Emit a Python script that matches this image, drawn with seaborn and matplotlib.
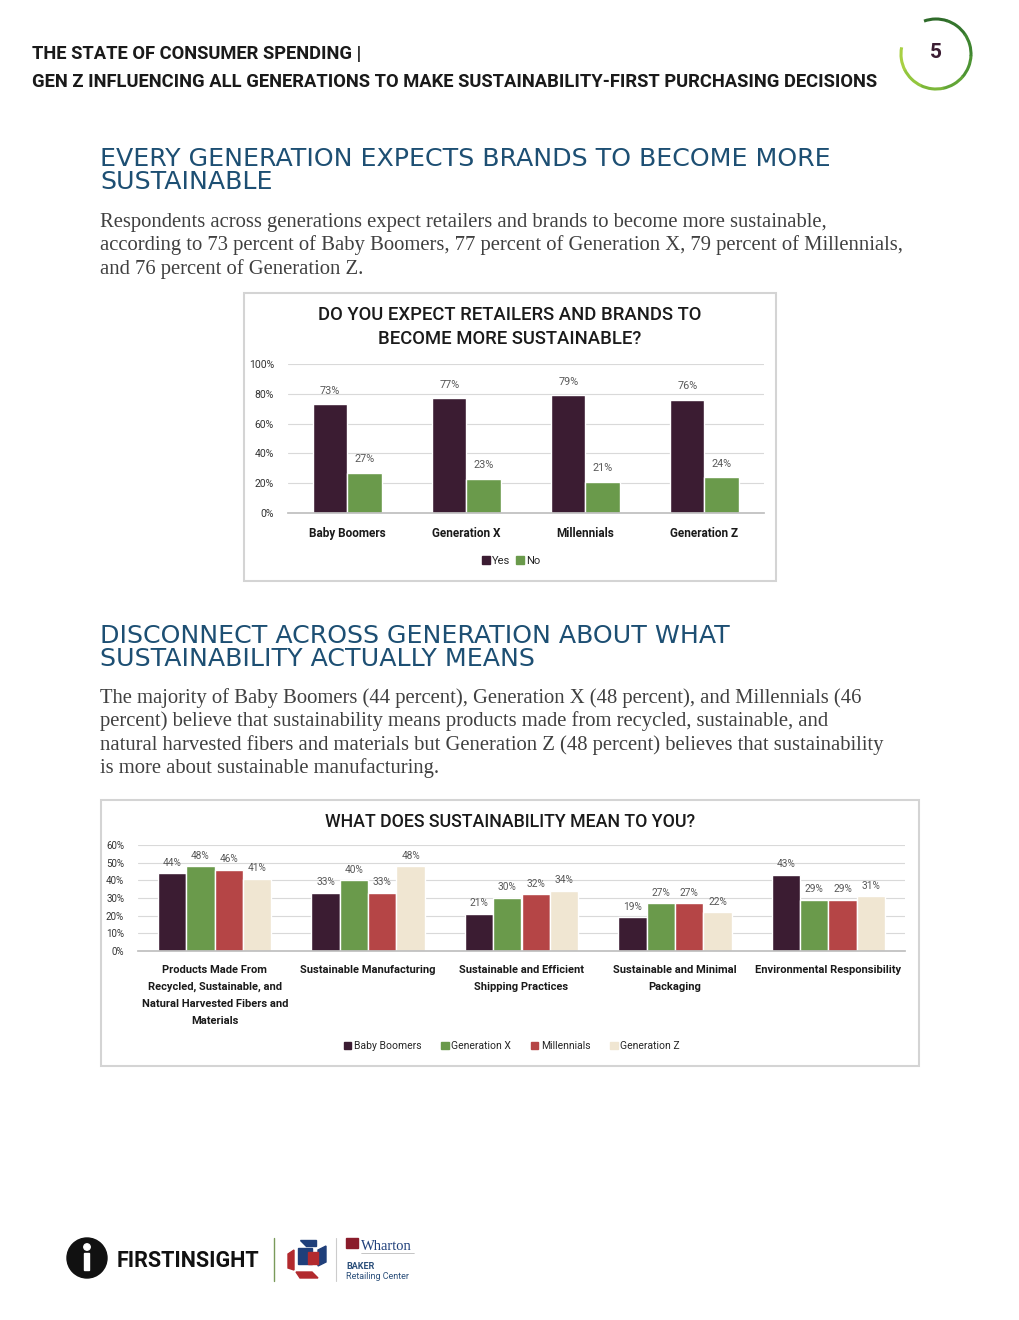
import pandas as pd
import matplotlib
matplotlib.use('Agg')
import matplotlib.pyplot as plt
import seaborn as sns
from matplotlib import patches, font_manager
from matplotlib.patches import Patch

# chart 1 data
gens = ['Baby Boomers', 'Generation X', 'Millennials', 'Generation Z']
yes_vals = [73, 77, 79, 76]
no_vals = [27, 23, 21, 24]
answers = ['Yes', 'No']

# chart 2 data
meanings = ['Products Made From\nRecycled, Sustainable, and\nNatural Harvested Fibers and\nMaterials',
            'Sustainable Manufacturing',
            'Sustainable and Efficient\nShipping Practices',
            'Sustainable and Minimal\nPackaging',
            'Environmental Responsibility']
boomers = [44, 33, 21, 19, 43]
gen_x = [48, 40, 30, 27, 29]
millennials = [46, 33, 32, 27, 29]
gen_z = [41, 48, 34, 22, 31]

PURPLE = '#3b1c32'
GREEN = '#6a9a4b'
RED = '#b54546'
CREAM = '#f0e6d2'
BLUE = '#1d4f73'
LABEL_GRAY = '#595959'

sns.set_theme(style='white')
names = {f.name for f in font_manager.fontManager.ttflist}
NARROW = 'Liberation Sans Narrow' if 'Liberation Sans Narrow' in names else 'Roboto'
plt.rcParams['font.family'] = ['Roboto', 'DejaVu Sans']

fig = plt.figure(figsize=(10.2, 13.2), dpi=100)
fig.patch.set_facecolor('white')

# page layer in pixel coords
page = fig.add_axes([0, 0, 1, 1])
page.set_xlim(0, 1020)
page.set_ylim(1320, 0)
page.axis('off')


def axes_px(left, top, right, bottom):
    return fig.add_axes([left / 1020, 1 - bottom / 1320, (right - left) / 1020, (bottom - top) / 1320])


# header
page.text(32, 59, 'THE STATE OF CONSUMER SPENDING |', family=NARROW, fontweight='bold',
          fontsize=13.2, color='#1a1a1a', va='baseline')
page.text(32, 87, 'GEN Z INFLUENCING ALL GENERATIONS TO MAKE SUSTAINABILITY-FIRST PURCHASING DECISIONS',
          family=NARROW, fontweight='bold', fontsize=13.2, color='#1a1a1a', va='baseline')

# page number ring
ring_cols = ['#2f6b2a', '#35762d', '#3f8530', '#4d9433', '#62a536', '#7cb739', '#93c63d', '#a8d043']
start, stop = 250, 550
step = (stop - start) / len(ring_cols)
for i, c in enumerate(ring_cols):
    page.add_patch(patches.Arc((936, 54), 70, 70, theta1=start + i * step, theta2=start + (i + 1) * step + 1,
                               color=c, lw=2.2))
page.text(936, 53, '5', ha='center', va='center', fontsize=15, fontweight='bold', color=PURPLE)

# section 1 text
page.text(100, 166, 'EVERY GENERATION EXPECTS BRANDS TO BECOME MORE', family='DejaVu Sans',
          fontsize=18.2, color=BLUE, va='baseline')
page.text(100, 189, 'SUSTAINABLE', family='DejaVu Sans', fontsize=18.2, color=BLUE, va='baseline')
para1 = ['Respondents across generations expect retailers and brands to become more sustainable,',
         'according to 73 percent of Baby Boomers, 77 percent of Generation X, 79 percent of Millennials,',
         'and 76 percent of Generation Z.']
for i, line in enumerate(para1):
    page.text(100, 227 + i * 23.3, line, family='Liberation Serif', fontsize=14.9, color='#404040', va='baseline')

# chart 1 frame
page.add_patch(patches.Rectangle((244, 293), 532, 288, fill=False, ec='#d4d4d4', lw=1.5))
page.text(510, 320, 'DO YOU EXPECT RETAILERS AND BRANDS TO', ha='center', va='baseline',
          fontsize=13.3, fontweight='medium', color='#1a1a1a')
page.text(510, 344, 'BECOME MORE SUSTAINABLE?', ha='center', va='baseline',
          fontsize=13.3, fontweight='medium', color='#1a1a1a')

df1 = pd.DataFrame({'generation': gens * 2, 'value': yes_vals + no_vals,
                    'answer': [answers[0]] * 4 + [answers[1]] * 4})
ax1 = axes_px(288, 364, 764, 513)
sns.barplot(data=df1, x='generation', y='value', hue='answer', palette=[PURPLE, GREEN],
            width=0.58, saturation=1, legend=False, ax=ax1)
for cont in ax1.containers:
    ax1.bar_label(cont, fmt='%d%%', padding=6, fontsize=7.8, color=LABEL_GRAY, family=NARROW)
ax1.set_ylim(0, 100)
ax1.set_yticks(range(0, 101, 20))
ax1.set_yticklabels([f'{v}%' for v in range(0, 101, 20)], family=NARROW, fontsize=7.5, color='#333333')
ax1.set_xlabel('')
ax1.set_ylabel('')
ax1.grid(axis='y', color='#d9d9d9', lw=0.8)
ax1.set_axisbelow(True)
for s in ['top', 'right', 'left']:
    ax1.spines[s].set_visible(False)
ax1.spines['bottom'].set_color('#bfbfbf')
ax1.tick_params(axis='y', length=0, pad=10)
ax1.tick_params(axis='x', length=0, pad=10)
for lab in ax1.get_xticklabels():
    lab.set_fontweight('bold')
    lab.set_family(NARROW)
    lab.set_fontsize(8.5)
    lab.set_color('#1a1a1a')
ax1.set_facecolor('none')
fig.legend(handles=[Patch(color=PURPLE, label='Yes'), Patch(color=GREEN, label='No')],
           loc='center', bbox_to_anchor=(511 / 1020, 1 - 561 / 1320), ncol=2, frameon=False,
           handlelength=0.7, handleheight=0.7, handletextpad=0.2, columnspacing=0.5,
           prop={'family': NARROW, 'size': 8})

# section 2 text
page.text(100, 643, 'DISCONNECT ACROSS GENERATION ABOUT WHAT', family='DejaVu Sans',
          fontsize=18.2, color=BLUE, va='baseline')
page.text(100, 666, 'SUSTAINABILITY ACTUALLY MEANS', family='DejaVu Sans', fontsize=18.2, color=BLUE,
          va='baseline')
para2 = ['The majority of Baby Boomers (44 percent), Generation X (48 percent), and Millennials (46',
         'percent) believe that sustainability means products made from recycled, sustainable, and',
         'natural harvested fibers and materials but Generation Z (48 percent) believes that sustainability',
         'is more about sustainable manufacturing.']
for i, line in enumerate(para2):
    page.text(100, 703 + i * 23.3, line, family='Liberation Serif', fontsize=14.9, color='#404040', va='baseline')

# chart 2 frame
page.add_patch(patches.Rectangle((101, 800), 818, 266, fill=False, ec='#d4d4d4', lw=1.5))
page.text(510, 827, 'WHAT DOES SUSTAINABILITY MEAN TO YOU?', ha='center', va='baseline',
          fontsize=12.8, fontweight='medium', color='#1a1a1a')

series = ['Baby Boomers', 'Generation X', 'Millennials', 'Generation Z']
df2 = pd.DataFrame({'meaning': meanings * 4,
                    'value': boomers + gen_x + millennials + gen_z,
                    'generation': [s for s in series for _ in meanings]})
ax2 = axes_px(138, 845, 905, 951)
sns.barplot(data=df2, x='meaning', y='value', hue='generation', palette=[PURPLE, GREEN, RED, CREAM],
            width=0.74, saturation=1, legend=False, ax=ax2)
for cont in ax2.containers:
    ax2.bar_label(cont, fmt='%d%%', padding=4, fontsize=7.3, color=LABEL_GRAY, family=NARROW)
ax2.set_ylim(0, 60)
ax2.set_yticks(range(0, 61, 10))
ax2.set_yticklabels([f'{v}%' for v in range(0, 61, 10)], family=NARROW, fontsize=7, color='#333333')
ax2.set_xlabel('')
ax2.set_ylabel('')
ax2.grid(axis='y', color='#d9d9d9', lw=0.8)
ax2.set_axisbelow(True)
for s in ['top', 'right', 'left']:
    ax2.spines[s].set_visible(False)
ax2.spines['bottom'].set_color('#bfbfbf')
ax2.tick_params(axis='y', length=0, pad=10)
ax2.tick_params(axis='x', length=0, pad=10)
for lab in ax2.get_xticklabels():
    lab.set_fontweight('bold')
    lab.set_family(NARROW)
    lab.set_fontsize(8)
    lab.set_color('#1a1a1a')
    lab.set_linespacing(1.85)
    lab.set_va('top')
ax2.set_facecolor('none')
fig.legend(handles=[Patch(color=c, label=s) for c, s in zip([PURPLE, GREEN, RED, CREAM], series)],
           loc='center', bbox_to_anchor=(512 / 1020, 1 - 1046 / 1320), ncol=4, frameon=False,
           handlelength=0.7, handleheight=0.7, handletextpad=0.25, columnspacing=1.9,
           prop={'family': NARROW, 'size': 7.5})

# footer logos
page.add_patch(patches.Circle((87, 1258), 20, color='#111111'))
page.add_patch(patches.Circle((87, 1247), 3.2, color='white'))
page.add_patch(patches.Rectangle((84.5, 1253), 5, 17, color='white'))
page.text(117, 1267, 'FIRSTINSIGHT', fontsize=15.5, fontweight='bold', color='#111111', va='baseline')
page.plot([274, 274], [1238, 1281], color='#7a9a5a', lw=1)
page.add_patch(patches.Rectangle((298, 1248), 14, 16, color='#1f3f7a'))
page.add_patch(patches.Polygon([(300, 1240), (316, 1240), (316, 1246), (306, 1246)], color='#1f3f7a'))
page.add_patch(patches.Polygon([(288, 1254), (294, 1250), (294, 1270), (288, 1268)], color='#b22a2e'))
page.add_patch(patches.Polygon([(318, 1250), (326, 1246), (326, 1262), (318, 1266)], color='#1f3f7a'))
page.add_patch(patches.Polygon([(296, 1272), (312, 1272), (318, 1278), (300, 1278)], color='#b22a2e'))
page.add_patch(patches.Rectangle((308, 1252), 10, 12, color='#b22a2e'))
page.plot([336, 336], [1238, 1281], color='#cccccc', lw=0.8)
page.add_patch(patches.Rectangle((346, 1238), 12, 10, color='#8a1c2b'))
page.text(361, 1250, 'Wharton', family='Liberation Serif', fontsize=10.5, color='#1f3f7a', va='baseline')
page.plot([361, 414], [1253, 1253], color='#999999', lw=0.4)
page.text(346, 1269, 'BAKER', fontsize=6.5, fontweight='bold', color='#2b4f7a', va='baseline')
page.text(346, 1279, 'Retailing Center', fontsize=6.5, color='#2b4f7a', va='baseline')

fig.savefig('out.png', dpi=100, facecolor='white')
